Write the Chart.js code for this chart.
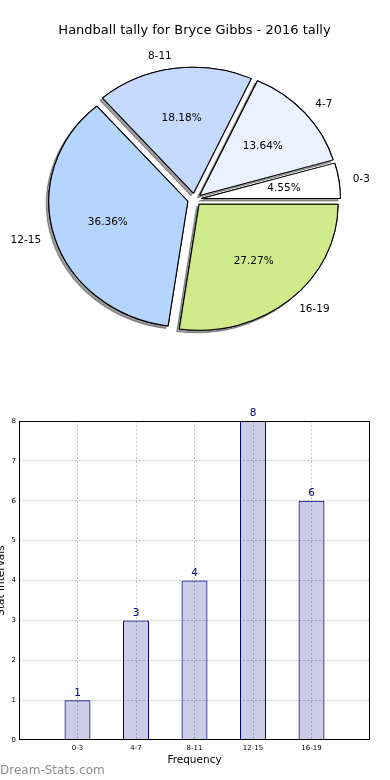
<!DOCTYPE html>
<html><head><meta charset="utf-8">
<script src="https://cdn.jsdelivr.net/npm/chart.js@4.4.1/dist/chart.umd.min.js"></script>
<style>
html,body{margin:0;padding:0;background:#fff;width:390px;height:780px;overflow:hidden;position:relative;font-family:"DejaVu Sans",sans-serif}
#pie{position:absolute;left:0;top:0}
#bar{position:absolute;left:0;top:400px}
#wm{position:absolute;left:0;top:762px;font-size:12px;color:#8c8c8c;font-family:"DejaVu Sans",sans-serif;line-height:16px;white-space:nowrap}
</style></head><body>
<canvas id="pie" width="390" height="380"></canvas>
<canvas id="bar" width="390" height="380"></canvas>
<div id="wm"></div>
<script>
// ---- data ----
const titleText = 'Handball tally for Bryce Gibbs - 2016 tally';
const categories = ['0-3', '4-7', '8-11', '12-15', '16-19'];
const values = [1, 3, 4, 8, 6];
const pieColors = ['#ffffff', '#ebf2ff', '#c6d9ff', '#b5d5ff', '#d0eb8b'];
const yMin = 0, yMax = 8, yStep = 1;
const xTitle = 'Frequency';
const yTitle = 'Stat Intervals';
const watermark = 'Dream-Stats.com';

document.getElementById('wm').textContent = watermark;
const FAM = "'DejaVu Sans', sans-serif";
Chart.defaults.font.family = FAM;
Chart.defaults.color = '#000';

// ---- pie ----
const SX = 139 / 126;      // horizontal stretch (elliptical pie)
const EXPLODE = 0.05;
const total = values.reduce((a, b) => a + b, 0);
const pieLabels = categories.slice().reverse();
const pieValues = values.slice().reverse();
const pieBg = pieColors.slice().reverse();

const piePlugin = {
  id: 'pieDraw',
  beforeDatasetDraw(chart, args) {
    const ctx = chart.ctx;
    const arcs = args.meta.data;
    const pass = (shadow) => {
      arcs.forEach(arc => {
        const R = arc.outerRadius;
        const mid = (arc.startAngle + arc.endAngle) / 2;
        ctx.save();
        if (shadow) {
          ctx.shadowColor = 'rgba(40,40,40,0.45)';
          ctx.shadowOffsetX = -2.5;
          ctx.shadowOffsetY = 2.5;
          ctx.shadowBlur = 0;
        }
        ctx.translate(arc.x, arc.y); ctx.scale(SX, 1); ctx.translate(-arc.x, -arc.y);
        ctx.translate(Math.cos(mid) * R * EXPLODE, Math.sin(mid) * R * EXPLODE);
        arc.draw(ctx);
        ctx.restore();
      });
    };
    pass(true);
    pass(false);
    return false;
  },
  afterDatasetsDraw(chart) {
    const ctx = chart.ctx;
    const meta = chart.getDatasetMeta(0);
    ctx.save();
    ctx.font = "10.5px " + FAM;
    ctx.fillStyle = '#000';
    ctx.textBaseline = 'middle';
    meta.data.forEach((arc, i) => {
      const R = arc.outerRadius;
      const mid = (arc.startAngle + arc.endAngle) / 2;
      const c = Math.cos(mid), s = Math.sin(mid);
      const lr = R * (1.1 + EXPLODE), pr = R * (0.6 + EXPLODE);
      ctx.textAlign = c > 0 ? 'left' : 'right';
      ctx.fillText(pieLabels[i], arc.x + SX * lr * c, arc.y + lr * s);
      ctx.textAlign = 'center';
      ctx.fillText((pieValues[i] / total * 100).toFixed(2) + '%', arc.x + SX * pr * c, arc.y + pr * s);
    });
    ctx.restore();
  }
};

new Chart(document.getElementById('pie'), {
  type: 'pie',
  data: { labels: pieLabels, datasets: [{
    data: pieValues, backgroundColor: pieBg, borderColor: '#000', borderWidth: 1,
    radius: 126, clip: false
  }]},
  options: {
    responsive: false, animation: false, rotation: 90,
    layout: { padding: { left: 0, right: 1, top: 0, bottom: 19.8 } },
    plugins: {
      legend: { display: false }, tooltip: { enabled: false },
      title: { display: true, text: titleText, color: '#000',
        font: { size: 13, weight: 'normal', family: FAM, lineHeight: 1.2 },
        padding: { top: 23.2, bottom: 0 } }
    }
  },
  plugins: [piePlugin]
});

// ---- bar ----
const padLabels = [''].concat(categories, ['']);
const padValues = [null].concat(values, [null]);

const boxPlugin = {
  id: 'box',
  afterDraw(chart) {
    const { ctx, chartArea: a } = chart;
    ctx.save();
    ctx.strokeStyle = '#000'; ctx.lineWidth = 1;
    ctx.strokeRect(Math.round(a.left) + 0.5, Math.round(a.top) + 0.5,
      Math.round(a.right) - Math.round(a.left) - 1, Math.round(a.bottom) - Math.round(a.top) - 1);
    ctx.restore();
  }
};
const valuePlugin = {
  id: 'vals',
  afterDatasetsDraw(chart) {
    const ctx = chart.ctx;
    const meta = chart.getDatasetMeta(0);
    ctx.save();
    ctx.font = "10.5px " + FAM;
    ctx.fillStyle = '#00008b';
    ctx.textAlign = 'center';
    ctx.textBaseline = 'bottom';
    meta.data.forEach((bar, i) => {
      const v = padValues[i];
      if (v === null) return;
      ctx.fillText(String(v), bar.x, bar.y - 2);
    });
    ctx.restore();
  }
};

const gridCol = '#c4c4c4';
new Chart(document.getElementById('bar'), {
  type: 'bar',
  data: { labels: padLabels, datasets: [{
    data: padValues, backgroundColor: 'rgba(0,0,128,0.2)', borderColor: '#000080',
    borderWidth: 1, categoryPercentage: 1, barPercentage: 0.444
  }]},
  options: {
    responsive: false, animation: false,
    layout: { padding: { left: 0, right: 20, top: 21, bottom: 0 } },
    plugins: { legend: { display: false }, tooltip: { enabled: false } },
    scales: {
      x: {
        offset: false,
        grid: { offset: false, drawTicks: false,
          color: c => (c.index === 0 || c.index === padLabels.length - 1) ? 'rgba(0,0,0,0)' : gridCol },
        border: { display: false, dash: [2, 2] },
        ticks: { font: { size: 7 }, color: '#000', padding: 4, maxRotation: 0, autoSkip: false },
        title: { display: true, text: xTitle, color: '#000', font: { size: 10.5 }, padding: { top: 0, bottom: 13.7 } },
        afterFit(s) { s.height = 40; }
      },
      y: {
        min: yMin, max: yMax,
        grid: { drawTicks: false,
          color: c => (c.tick && (c.tick.value === yMin || c.tick.value === yMax)) ? 'rgba(0,0,0,0)' : gridCol },
        border: { display: false, dash: [2, 2] },
        ticks: { stepSize: yStep, font: { size: 7 }, color: '#000', padding: 3 },
        title: { display: true, text: yTitle, color: '#000', font: { size: 10.5 }, padding: { top: -5, bottom: 0 } },
        afterFit(s) { s.width = 19; }
      }
    }
  },
  plugins: [boxPlugin, valuePlugin]
});
</script>
</body></html>
